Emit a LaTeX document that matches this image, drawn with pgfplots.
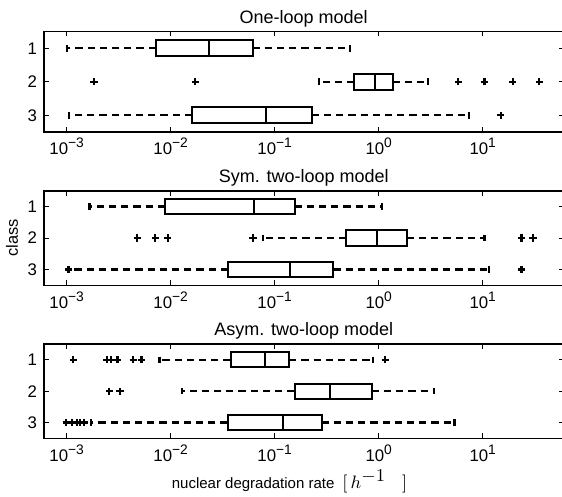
\documentclass[border=0pt]{standalone}
\usepackage{pgfplots}
\pgfplotsset{compat=1.18}
\usepgfplotslibrary{statistics}
\usepackage{fontspec}
\setmainfont{Liberation Sans}

% superscript for the decade labels
\newcommand\sx[1]{\raisebox{0.42em}{\fontsize{6.9}{8}\selectfont #1}}

\pgfplotsset{
  mypanel/.style={
    scale only axis, width=259.75pt,
    xmin=6.05e-4, xmax=59.8,
    ymin=0.5, ymax=3.5, y dir=reverse,
    ytick={1,2,3}, yticklabels={1,2,3},
    xtick={1e-3,1e-2,1e-1,1,10},
    xticklabels={10\sx{−3},10\sx{−2},10\sx{−1},10\sx{0},10\sx{1}},
    tick align=inside, xtick pos=both, ytick pos=both,
    major tick length=2.5pt, minor tick length=0pt,
    axis line style={line width=0.8pt},
    every tick/.style={black, line width=0.5pt},
    tick label style={font=\fontsize{8.4}{10}\selectfont},
    xticklabel style={anchor=base, yshift=-11.5pt},
    every axis title shift=0pt,
    title style={font=\fontsize{9}{11}\selectfont, at={(0.5,1)}, anchor=base, yshift=4.1pt},
    boxplot/box extend=0.48, boxplot/whisker extend=0.2,
    boxplot/every whisker/.style={line width=1.1pt, dash pattern=on 3.6pt off 2.5pt},
  },
  mybox/.style={black, line width=1pt, mark=+, mark size=1.8pt, mark options={solid, line width=1.1pt}},
}

\begin{document}
\begin{tikzpicture}

% panel 1
\begin{semilogxaxis}[mypanel, height=50.25pt, at={(0pt,-15.75pt)}, anchor=north west,
  title={One-loop model}]
\addplot[mybox, boxplot prepared={draw position=1, lower whisker=0.001, lower quartile=0.0072,
  median=0.0233, upper quartile=0.0614, upper whisker=0.527}] coordinates {};
\addplot[mybox, boxplot prepared={draw position=2, lower whisker=0.267, lower quartile=0.58,
  median=0.913, upper quartile=1.357, upper whisker=3.0}]
  table[row sep=\\, y index=0] {v\\ 0.00183\\ 0.01726\\ 5.8\\ 10.4\\ 19.4\\ 35\\};
\addplot[mybox, boxplot prepared={draw position=3, lower whisker=0.00106, lower quartile=0.016,
  median=0.083, upper quartile=0.2276, upper whisker=7.35}]
  table[row sep=\\, y index=0] {v\\ 14.9\\};
\end{semilogxaxis}

% panel 2
\begin{semilogxaxis}[mypanel, height=47.3pt, at={(0pt,-95.35pt)}, anchor=north west,
  title={Sym. two-loop model}, ylabel={class},
  ylabel style={font=\fontsize{8.2}{10}\selectfont, at={(axis description cs:-0.0616,0.5)}, anchor=center}]
\addplot[mybox, boxplot prepared={draw position=1, lower whisker=0.00166, lower quartile=0.0088,
  median=0.063, upper quartile=0.155, upper whisker=1.07}] coordinates {};
\addplot[mybox, boxplot prepared={draw position=2, lower whisker=0.0778, lower quartile=0.487,
  median=0.963, upper quartile=1.86, upper whisker=10.4}]
  table[row sep=\\, y index=0] {v\\ 0.00477\\ 0.0071\\ 0.00935\\ 0.0618\\ 23.6\\ 30.5\\};
\addplot[mybox, boxplot prepared={draw position=3, lower whisker=0.00103, lower quartile=0.0356,
  median=0.139, upper quartile=0.366, upper whisker=11.5}]
  table[row sep=\\, y index=0] {v\\ 0.00105\\ 23.6\\};
\end{semilogxaxis}

% panel 3
\begin{semilogxaxis}[mypanel, height=47.15pt, at={(0pt,-172pt)}, anchor=north west,
  title={Asym. two-loop model},
  xlabel={nuclear degradation rate\hspace{4pt}{\fontsize{9.4}{11}\selectfont$[\,h^{\displaystyle -1}\hspace{8pt}]$}},
  xlabel style={font=\fontsize{7.5}{9}\selectfont, at={(axis description cs:0.4726,0)}, anchor=base, yshift=-25.2pt}]
\addplot[mybox, boxplot prepared={draw position=1, lower whisker=0.0078, lower quartile=0.0376,
  median=0.0798, upper quartile=0.1377, upper whisker=0.877}]
  table[row sep=\\, y index=0] {v\\ 0.00116\\ 0.00242\\ 0.00267\\ 0.00308\\ 0.00436\\ 0.00525\\ 1.157\\};
\addplot[mybox, boxplot prepared={draw position=2, lower whisker=0.01277, lower quartile=0.155,
  median=0.338, upper quartile=0.857, upper whisker=3.43}]
  table[row sep=\\, y index=0] {v\\ 0.00257\\ 0.00325\\};
\addplot[mybox, boxplot prepared={draw position=3, lower whisker=0.0017, lower quartile=0.0352,
  median=0.121, upper quartile=0.282, upper whisker=5.36}]
  table[row sep=\\, y index=0] {v\\ 0.00099\\ 0.00112\\ 0.00125\\ 0.00135\\ 0.00147\\};
\end{semilogxaxis}

\pgfresetboundingbox
\path[use as bounding box] (-22pt,0pt) rectangle (259pt,-248.5pt);
\end{tikzpicture}
\end{document}
